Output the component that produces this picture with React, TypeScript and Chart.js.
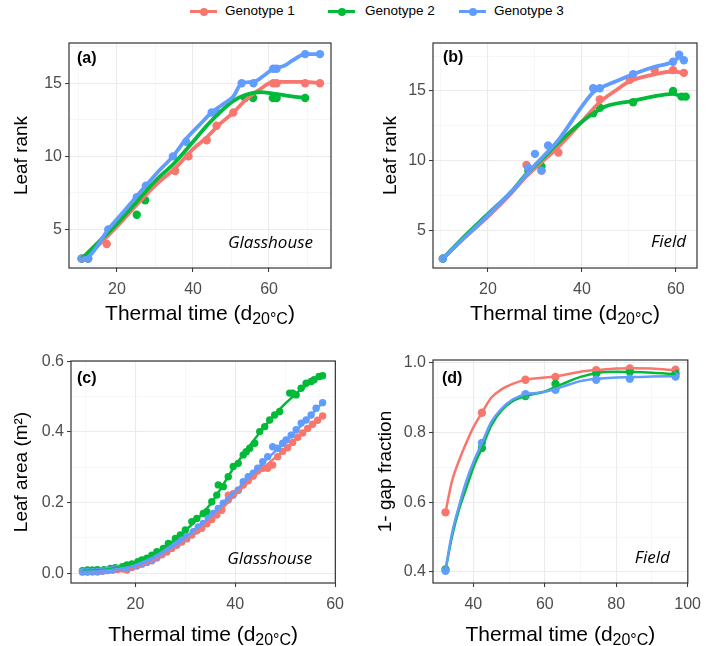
import React, { useEffect, useRef } from 'react';
import { Chart, registerables } from 'chart.js';
Chart.register(...registerables);

type Pair = [number, number];

const genotypeLabels = ['Genotype 1', 'Genotype 2', 'Genotype 3'];
const genotypeColors = ['#F8766D', '#00BA38', '#619CFF'];

// ---------- Panel (a): leaf rank, glasshouse
const aG1Points: Pair[] = [[10.7, 3], [12.4, 3], [17.3, 4], [35.3, 9], [38.8, 10], [43.6, 11.1], [46.2, 12.1], [50.6, 13], [61.1, 15], [62, 15], [69.5, 15], [73.4, 15]];
const aG2Points: Pair[] = [[10.7, 3], [12.4, 3], [25.2, 6], [27.4, 7], [53.7, 14], [55.8, 14], [61, 14], [62, 14], [69.5, 14]];
const aG3Points: Pair[] = [[10.7, 3], [12.4, 3], [17.7, 5], [23.9, 6.6], [25.2, 7.2], [27.6, 8], [34.7, 10], [38.2, 11], [44.9, 13], [46.2, 13], [52.8, 15], [55.9, 15], [61.1, 16], [62, 16], [69.5, 17], [73.4, 17]];
const aG1Line: Pair[] = [[10.7, 2.9], [15, 3.9], [20, 5.2], [25.2, 6.7], [30, 8], [35.3, 9.2], [40, 10.5], [43.6, 11.3], [47, 12.2], [50.6, 13], [54, 13.9], [57.7, 14.6], [61.1, 15.1], [65, 15.1], [69.5, 15.1], [73.4, 15]];
const aG2Line: Pair[] = [[10.7, 3], [15, 4.1], [20, 5.4], [25.2, 6.9], [30, 8.3], [35.3, 9.6], [40, 11], [43.6, 12.1], [47, 13], [50.6, 13.8], [53.7, 14.2], [57.7, 14.4], [61.1, 14.3], [66, 14.1], [69.5, 14]];
const aG3Line: Pair[] = [[10.7, 3], [12.4, 3.1], [17.7, 5], [22, 6.3], [27.6, 8], [31, 9], [34.7, 10], [38.2, 11.2], [41.5, 12.1], [44.9, 13], [47.5, 13.5], [50.6, 14.1], [52.8, 15], [55.9, 15.1], [58.5, 15.5], [61.1, 16], [64, 16.2], [66.4, 16.6], [69.5, 17], [73.4, 17]];
const aXTicks = [20, 40, 60];
const aXMinor = [10, 30, 50, 70];
const aYTicks = [5, 10, 15];
const aYMinor = [2.5, 7.5, 12.5, 17.5];

// ---------- Panel (b): leaf rank, field
const bG1Points: Pair[] = [[10.4, 3], [28.2, 9.7], [31.4, 9.3], [35, 10.6], [43.8, 14.4], [50.2, 15.8], [55.5, 16.5], [59.4, 16.5], [61.7, 16.3]];
const bG2Points: Pair[] = [[10.4, 3], [28.6, 9.3], [31.4, 9.6], [42.4, 13.4], [43.8, 13.8], [50.9, 14.2], [59.4, 15], [61.2, 14.6], [62.1, 14.6]];
const bG3Points: Pair[] = [[10.4, 3], [28.6, 9.5], [30, 10.5], [31.4, 9.3], [32.8, 11.1], [42.4, 15.2], [43.8, 15.2], [50.9, 16.2], [59.4, 17.1], [60.7, 17.6], [61.7, 17.2]];
const bG1Line: Pair[] = [[10.4, 3], [15, 4.5], [20, 6], [25, 7.7], [28.2, 8.9], [31.4, 9.9], [35, 11], [40, 12.8], [43.8, 14.2], [47, 15], [50.2, 15.7], [55.5, 16.2], [59.4, 16.4], [61.7, 16.3]];
const bG2Line: Pair[] = [[10.4, 3], [15, 4.6], [20, 6.2], [25, 7.8], [28, 9], [31.4, 10.1], [35, 11.3], [40, 12.8], [42.4, 13.4], [45, 13.9], [50.9, 14.3], [55, 14.6], [59.4, 14.8], [61.2, 14.6], [62.1, 14.5]];
const bG3Line: Pair[] = [[10.4, 3], [15, 4.5], [20, 6.1], [25, 7.8], [30, 9.7], [35, 11.5], [40, 13.9], [42.4, 14.9], [43.8, 15.2], [47.3, 15.7], [50.9, 16.2], [55.1, 16.7], [59.4, 17.1], [60.7, 17.4], [61.7, 17.2]];
const bXTicks = [20, 40, 60];
const bXMinor = [10, 30, 50];
const bYTicks = [5, 10, 15];
const bYMinor = [2.5, 7.5, 12.5, 17.5];

// ---------- Panel (c): leaf area, glasshouse
const cG1Points: Pair[] = [[9.4, 0.003], [10.4, 0.003], [11.4, 0.004], [12.4, 0.004], [13.4, 0.005], [14.4, 0.007], [15.4, 0.008], [16.4, 0.01], [17.4, 0.012], [18.3, 0.009], [19.3, 0.016], [20.3, 0.02], [21.3, 0.025], [22.3, 0.03], [23.3, 0.035], [24.3, 0.043], [25.3, 0.052], [26.3, 0.06], [27.3, 0.07], [28.3, 0.079], [29.3, 0.088], [30.3, 0.097], [31.3, 0.108], [32.3, 0.12], [33.3, 0.127], [34.3, 0.14], [35.3, 0.152], [36.3, 0.165], [37.3, 0.178], [38.6, 0.221], [39.6, 0.225], [40.6, 0.235], [41.6, 0.25], [42.6, 0.262], [43.6, 0.275], [44.5, 0.29], [45.5, 0.297], [46.5, 0.297], [47.5, 0.306], [48.5, 0.33], [49.5, 0.345], [50.5, 0.355], [51.5, 0.37], [52.5, 0.385], [53.5, 0.397], [54.5, 0.41], [55.5, 0.422], [56.5, 0.433], [57.5, 0.445]];
const cG2Points: Pair[] = [[9.4, 0.007], [10.4, 0.009], [11.4, 0.009], [12.4, 0.01], [13.7, 0.01], [15, 0.013], [16, 0.015], [17.4, 0.018], [18.3, 0.023], [19.3, 0.026], [20.5, 0.032], [21.3, 0.037], [22.3, 0.042], [23.3, 0.051], [24.3, 0.061], [25.6, 0.07], [26.6, 0.084], [28, 0.098], [29, 0.108], [30, 0.122], [31.3, 0.146], [32.3, 0.155], [33.6, 0.169], [34.3, 0.174], [35.3, 0.202], [36.3, 0.221], [36.6, 0.25], [37.6, 0.245], [38.6, 0.273], [39.6, 0.302], [40.6, 0.311], [41.6, 0.335], [42.2, 0.344], [42.9, 0.354], [43.9, 0.368], [44.9, 0.401], [45.9, 0.415], [46.9, 0.434], [47.9, 0.448], [48.9, 0.458], [50.9, 0.51], [51.5, 0.51], [52.2, 0.505], [53.2, 0.524], [54.2, 0.538], [55.2, 0.543], [55.8, 0.548], [56.8, 0.557], [57.5, 0.559]];
const cG3Points: Pair[] = [[9.4, 0.004], [10.4, 0.004], [11.4, 0.004], [12.4, 0.004], [13.4, 0.006], [14.4, 0.009], [15.4, 0.01], [16.4, 0.013], [17.4, 0.013], [18.3, 0.015], [19.3, 0.018], [20.3, 0.023], [21.3, 0.027], [22.3, 0.032], [23.3, 0.037], [24.3, 0.046], [25.3, 0.056], [26.3, 0.065], [27.3, 0.075], [28.3, 0.084], [29.3, 0.094], [30.3, 0.103], [31.6, 0.117], [32.6, 0.131], [33.6, 0.141], [34.6, 0.155], [35.6, 0.169], [36.6, 0.183], [37.6, 0.198], [38.6, 0.207], [39.6, 0.221], [40.6, 0.235], [41.6, 0.259], [42.6, 0.273], [43.6, 0.283], [44.5, 0.297], [45.5, 0.316], [46.5, 0.33], [47.5, 0.358], [48.5, 0.354], [49.5, 0.368], [50.2, 0.377], [51.2, 0.391], [52.2, 0.406], [53.2, 0.425], [54.2, 0.434], [55.2, 0.448], [56.2, 0.467], [57.5, 0.483]];
const cG1Line: Pair[] = [[9.4, 0.003], [15, 0.008], [20, 0.018], [25, 0.048], [30, 0.095], [35, 0.15], [40, 0.222], [45, 0.29], [50, 0.352], [55, 0.415], [57.5, 0.445]];
const cG2Line: Pair[] = [[9.4, 0.006], [15, 0.012], [20, 0.03], [25, 0.065], [30, 0.12], [35, 0.195], [40, 0.305], [45, 0.4], [50, 0.48], [55, 0.54], [57.5, 0.56]];
const cG3Line: Pair[] = [[9.4, 0.003], [15, 0.009], [20, 0.021], [25, 0.053], [30, 0.1], [35, 0.16], [40, 0.23], [45, 0.305], [50, 0.372], [55, 0.445], [57.5, 0.483]];
const cXTicks = [20, 40, 60];
const cXMinor = [10, 30, 50];
const cYTicks = [0, 0.2, 0.4, 0.6];
const cYMinor = [0.1, 0.3, 0.5];

// ---------- Panel (d): 1 - gap fraction, field
const dG1Points: Pair[] = [[32.2, 0.571], [42.4, 0.857], [54.6, 0.952], [63, 0.96], [74.4, 0.979], [83.8, 0.984], [96.6, 0.981]];
const dG2Points: Pair[] = [[32.2, 0.407], [42.4, 0.756], [54.6, 0.905], [63, 0.94], [74.4, 0.97], [83.8, 0.975], [96.6, 0.97]];
const dG3Points: Pair[] = [[32.2, 0.403], [42.4, 0.77], [54.6, 0.91], [63, 0.923], [74.4, 0.952], [83.8, 0.955], [96.6, 0.961]];
const dG1Line: Pair[] = [[32.2, 0.571], [34, 0.66], [36, 0.72], [38, 0.77], [40, 0.815], [42.4, 0.857], [45, 0.9], [48, 0.925], [51, 0.94], [54.6, 0.952], [60, 0.958], [65, 0.965], [70, 0.975], [75, 0.98], [80, 0.984], [85, 0.985], [90, 0.984], [96.6, 0.979]];
const dG2Line: Pair[] = [[32.2, 0.405], [34, 0.5], [36, 0.58], [38, 0.64], [40, 0.7], [42.4, 0.756], [45, 0.82], [48, 0.865], [51, 0.89], [54.6, 0.905], [60, 0.918], [65, 0.94], [70, 0.96], [75, 0.972], [80, 0.975], [85, 0.974], [90, 0.972], [96.6, 0.968]];
const dG3Line: Pair[] = [[32.2, 0.405], [34, 0.51], [36, 0.59], [38, 0.66], [40, 0.715], [42.4, 0.77], [45, 0.83], [48, 0.87], [51, 0.895], [54.6, 0.91], [60, 0.917], [65, 0.932], [70, 0.948], [75, 0.955], [80, 0.958], [85, 0.96], [90, 0.961], [96.6, 0.962]];
const dXTicks = [40, 60, 80, 100];
const dXMinor = [30, 50, 70, 90];
const dYTicks = [0.4, 0.6, 0.8, 1.0];
const dYMinor = [0.5, 0.7, 0.9];

const xTitleMain = 'Thermal time (d';
const xTitleSub = '20°C';
const xTitleEnd = ')';

const SANS = '"Liberation Sans", Arial, sans-serif';

interface PanelCfg {
  box: { left: number; top: number; width: number; height: number };
  area: { l: number; t: number; r: number; b: number };
  xRange: [number, number];
  yRange: [number, number];
  xTicks: number[]; xMinor: number[];
  yTicks: number[]; yMinor: number[];
  yDecimals: number;
  points: Pair[][];
  lines: Pair[][];
  lineWidth: number;
  pointRadius: number;
  label: string; labelDx: number; labelDy: number;
  site: string; siteDx: number; siteDy: number;
  yTitle: string; yTitleX: number;
  xTitleBaseline: number;
}

function axisOpts(range: [number, number], major: number[], minor: number[], decimals: number, size: number, isX: boolean) {
  const all = [...major, ...minor].sort((p, q) => p - q);
  const isMajor = (v: number) => major.some((m) => Math.abs(m - v) < 1e-9);
  return {
    type: 'linear',
    min: range[0],
    max: range[1],
    afterBuildTicks: (s: any) => { s.ticks = all.map((v) => ({ value: v })); },
    afterFit: (s: any) => { if (isX) s.height = size; else s.width = size; },
    border: { display: false },
    grid: {
      color: (c: any) => (c.tick && isMajor(c.tick.value) ? '#EBEBEB' : '#F2F2F2'),
      lineWidth: (c: any) => (c.tick && isMajor(c.tick.value) ? 1.1 : 0.6),
      tickColor: (c: any) => (c.tick && isMajor(c.tick.value) ? '#333333' : 'rgba(0,0,0,0)'),
      tickLength: 4,
      tickWidth: 1,
      drawTicks: true,
    },
    ticks: {
      autoSkip: false,
      maxRotation: 0,
      padding: isX ? 8 : 3,
      color: '#4D4D4D',
      font: { family: SANS, size: 16 },
      callback: (v: any) => (isMajor(Number(v)) ? Number(v).toFixed(decimals) : ''),
    },
  };
}

function Panel({ cfg }: { cfg: PanelCfg }) {
  const ref = useRef<HTMLCanvasElement | null>(null);
  useEffect(() => {
    const canvas = ref.current;
    if (!canvas) return;
    const { box, area } = cfg;
    const datasets: any[] = [];
    [2, 1, 0].forEach((g, i) => {
      datasets.push({
        data: cfg.lines[g].map(([x, y]) => ({ x, y })),
        showLine: true,
        borderColor: genotypeColors[g],
        backgroundColor: genotypeColors[g],
        borderWidth: cfg.lineWidth,
        pointRadius: 0,
        cubicInterpolationMode: 'monotone',
        order: i,
      });
    });
    [2, 1, 0].forEach((g, i) => {
      datasets.push({
        data: cfg.points[g].map(([x, y]) => ({ x, y })),
        showLine: false,
        backgroundColor: genotypeColors[g],
        borderColor: genotypeColors[g],
        borderWidth: 0,
        pointRadius: cfg.pointRadius,
        order: 3 + i,
      });
    });

    const decor = {
      id: 'decor',
      afterDatasetsDraw(chart: any) {
        const { ctx, chartArea: ca } = chart;
        ctx.save();
        ctx.strokeStyle = '#333333';
        ctx.lineWidth = 1.2;
        ctx.strokeRect(ca.left, ca.top, ca.right - ca.left, ca.bottom - ca.top);
        ctx.restore();
      },
      afterDraw(chart: any) {
        const { ctx, chartArea: ca } = chart;
        ctx.save();
        ctx.fillStyle = '#000';
        ctx.font = `bold 16px ${SANS}`;
        ctx.textAlign = 'left';
        ctx.textBaseline = 'alphabetic';
        ctx.fillText(cfg.label, ca.left + cfg.labelDx, ca.top + cfg.labelDy);
        ctx.font = `italic 17px "Open Sans", sans-serif`;
        ctx.textAlign = 'right';
        ctx.fillText(cfg.site, ca.right - cfg.siteDx, ca.bottom - cfg.siteDy);
        ctx.save();
        ctx.translate(cfg.yTitleX - box.left, (ca.top + ca.bottom) / 2);
        ctx.rotate(-Math.PI / 2);
        ctx.textAlign = 'center';
        ctx.textBaseline = 'middle';
        ctx.font = `19px ${SANS}`;
        ctx.fillText(cfg.yTitle, 0, 0);
        ctx.restore();
        const mainFont = `21px ${SANS}`;
        const subFont = `16px ${SANS}`;
        ctx.font = mainFont;
        const w1 = ctx.measureText(xTitleMain).width;
        const w3 = ctx.measureText(xTitleEnd).width;
        ctx.font = subFont;
        const w2 = ctx.measureText(xTitleSub).width;
        const total = w1 + w2 + w3;
        let x = (ca.left + ca.right) / 2 - total / 2;
        const base = cfg.xTitleBaseline - box.top;
        ctx.textAlign = 'left';
        ctx.textBaseline = 'alphabetic';
        ctx.font = mainFont;
        ctx.fillText(xTitleMain, x, base);
        x += w1;
        ctx.font = subFont;
        ctx.fillText(xTitleSub, x, base + 4);
        x += w2;
        ctx.font = mainFont;
        ctx.fillText(xTitleEnd, x, base);
        ctx.restore();
      },
    };

    const chart = new Chart(canvas, {
      type: 'scatter',
      data: { datasets },
      options: {
        animation: false,
        responsive: false,
        maintainAspectRatio: false,
        events: [],
        layout: {
          padding: {
            left: 0,
            top: area.t - box.top,
            right: box.left + box.width - area.r,
            bottom: 0,
          },
        },
        plugins: { legend: { display: false }, tooltip: { enabled: false } },
        scales: {
          x: axisOpts(cfg.xRange, cfg.xTicks, cfg.xMinor, 0, box.top + box.height - area.b, true) as any,
          y: axisOpts(cfg.yRange, cfg.yTicks, cfg.yMinor, cfg.yDecimals, area.l - box.left, false) as any,
        },
      } as any,
      plugins: [decor],
    });
    return () => chart.destroy();
  }, [cfg]);
  const { box } = cfg;
  return (
    <canvas
      ref={ref}
      width={box.width}
      height={box.height}
      style={{ position: 'absolute', left: box.left, top: box.top, width: box.width, height: box.height }}
    />
  );
}

const panels: PanelCfg[] = [
  {
    box: { left: 0, top: 28, width: 352, height: 310 },
    area: { l: 69, t: 43, r: 331, b: 268 },
    xRange: [7.37, 76.3], yRange: [2.36, 17.76],
    xTicks: aXTicks, xMinor: aXMinor, yTicks: aYTicks, yMinor: aYMinor, yDecimals: 0,
    points: [aG1Points, aG2Points, aG3Points], lines: [aG1Line, aG2Line, aG3Line],
    lineWidth: 3.8, pointRadius: 4.2,
    label: '(a)', labelDx: 8, labelDy: 20,
    site: 'Glasshouse', siteDx: 18, siteDy: 20,
    yTitle: 'Leaf rank', yTitleX: 22, xTitleBaseline: 320,
  },
  {
    box: { left: 356, top: 28, width: 353, height: 310 },
    area: { l: 433, t: 43, r: 697, b: 268 },
    xRange: [8.3, 64.5], yRange: [2.33, 18.44],
    xTicks: bXTicks, xMinor: bXMinor, yTicks: bYTicks, yMinor: bYMinor, yDecimals: 0,
    points: [bG1Points, bG2Points, bG3Points], lines: [bG1Line, bG2Line, bG3Line],
    lineWidth: 3.8, pointRadius: 4.2,
    label: '(b)', labelDx: 10, labelDy: 19,
    site: 'Field', siteDx: 11, siteDy: 21,
    yTitle: 'Leaf rank', yTitleX: 391, xTitleBaseline: 320,
  },
  {
    box: { left: 0, top: 340, width: 352, height: 306 },
    area: { l: 71, t: 361, r: 336, b: 583 },
    xRange: [7.1, 60.05], yRange: [-0.028, 0.601],
    xTicks: cXTicks, xMinor: cXMinor, yTicks: cYTicks, yMinor: cYMinor, yDecimals: 1,
    points: [cG1Points, cG2Points, cG3Points], lines: [cG1Line, cG2Line, cG3Line],
    lineWidth: 2.5, pointRadius: 3.7,
    label: '(c)', labelDx: 6, labelDy: 22,
    site: 'Glasshouse', siteDx: 23, siteDy: 19,
    yTitle: 'Leaf area (m²)', yTitleX: 22, xTitleBaseline: 641,
  },
  {
    box: { left: 356, top: 340, width: 353, height: 306 },
    area: { l: 433, t: 360, r: 697, b: 583 },
    xRange: [28.7, 100.05], yRange: [0.368, 1.0086],
    xTicks: dXTicks, xMinor: dXMinor, yTicks: dYTicks, yMinor: dYMinor, yDecimals: 1,
    points: [dG1Points, dG2Points, dG3Points], lines: [dG1Line, dG2Line, dG3Line],
    lineWidth: 2.5, pointRadius: 4.2,
    label: '(d)', labelDx: 9, labelDy: 23,
    site: 'Field', siteDx: 18, siteDy: 20,
    yTitle: '1- gap fraction', yTitleX: 386, xTitleBaseline: 641,
  },
];

const legendMarkerX = [190, 328, 459];
const legendTextX = [225, 365, 494];

export default function App() {
  return (
    <div style={{ position: 'fixed', left: 0, top: 0, width: 709, height: 646, background: '#fff', overflow: 'hidden' }}>
      {genotypeLabels.map((lab, i) => (
        <React.Fragment key={lab}>
          <div style={{ position: 'absolute', left: legendMarkerX[i], top: 10, width: 27, height: 3, background: genotypeColors[i] }} />
          <div style={{ position: 'absolute', left: legendMarkerX[i] + 9.5, top: 7.5, width: 8, height: 8, borderRadius: 4, background: genotypeColors[i] }} />
          <div style={{ position: 'absolute', left: legendTextX[i], top: 3, fontFamily: SANS, fontSize: 13.5, lineHeight: '16px', color: '#000', whiteSpace: 'nowrap' }}>{lab}</div>
        </React.Fragment>
      ))}
      {panels.map((p, i) => (
        <Panel key={i} cfg={p} />
      ))}
    </div>
  );
}
